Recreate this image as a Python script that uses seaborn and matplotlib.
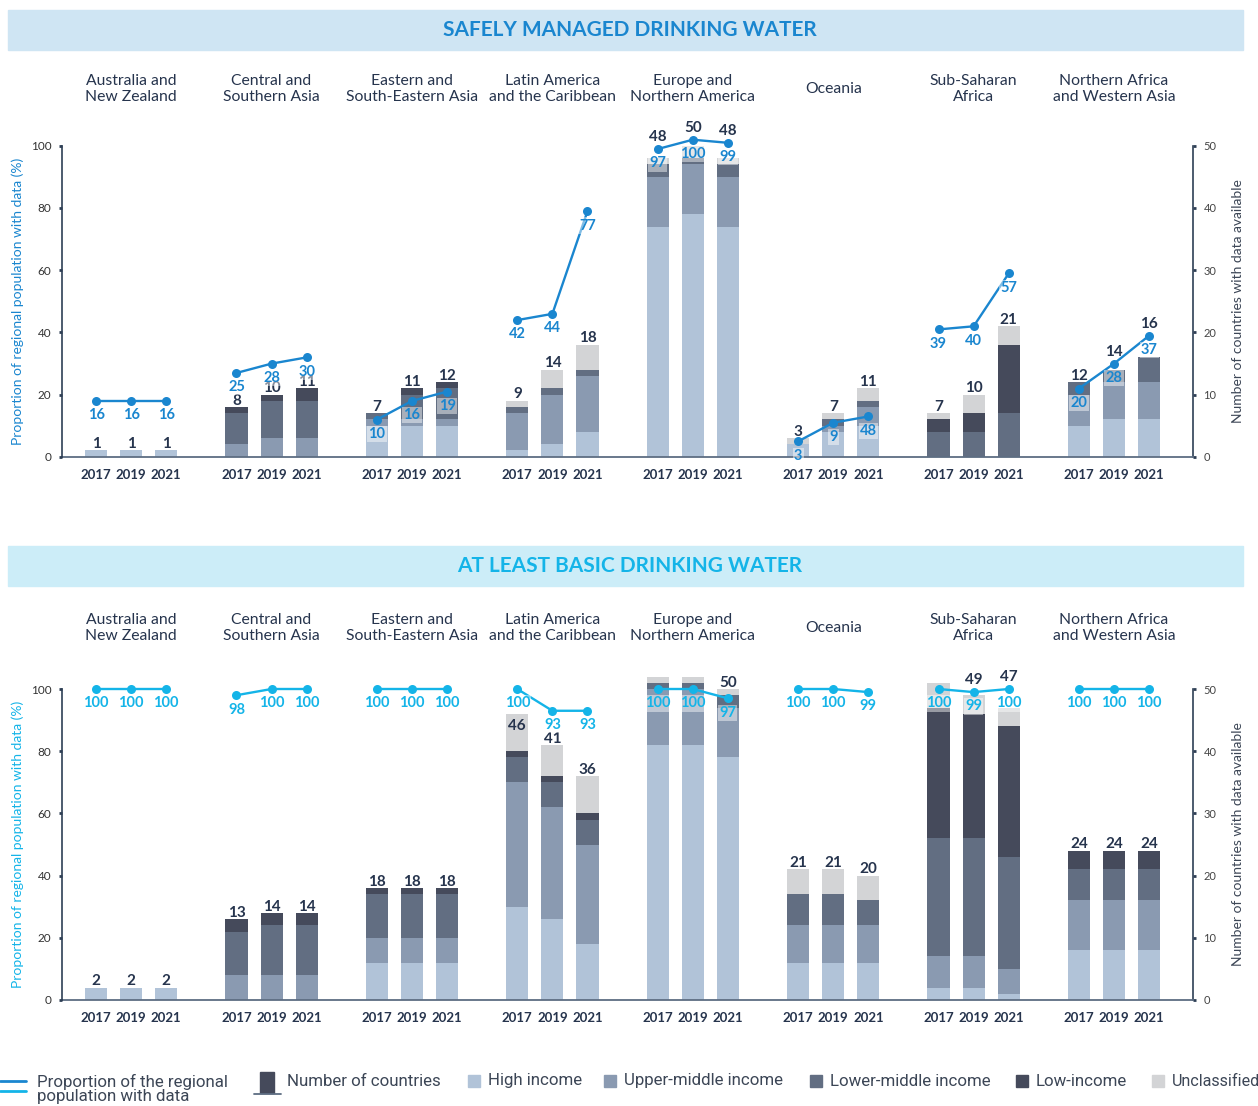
import matplotlib
matplotlib.use("Agg")
import matplotlib.pyplot as plt
import matplotlib.patches as mpatches
import matplotlib.lines as mlines
import matplotlib.transforms as mtrans
import pandas as pd
import seaborn as sns

sns.set_theme(style="white")
plt.rcParams["font.family"] = ["Lato", "DejaVu Sans"]

# -------------------------
# Data
# -------------------------
REGIONS = [
    "Australia and\nNew Zealand",
    "Central and\nSouthern Asia",
    "Eastern and\nSouth-Eastern Asia",
    "Latin America\nand the Caribbean",
    "Europe and\nNorthern America",
    "Oceania",
    "Sub-Saharan\nAfrica",
    "Northern Africa\nand Western Asia",
]
YEARS = [2017, 2019, 2021]
INCOME_GROUPS = ["High income", "Upper-middle income", "Lower-middle income",
                 "Low-income", "Unclassified"]
INCOME_COLORS = ["#b1c3d8", "#8a9ab1", "#626e82", "#454a5b", "#d3d4d6"]

# Safely managed drinking water: number of countries by income group
SM_HIGH = [[1, 1, 1], [0, 0, 0], [5, 5, 5], [1, 2, 4], [37, 39, 37], [2, 4, 5], [0, 0, 0], [5, 6, 6]]
SM_UPPER = [[0, 0, 0], [2, 3, 3], [1, 1, 1], [6, 8, 9], [8, 8, 8], [0, 1, 3], [0, 0, 0], [5, 6, 6]]
SM_LOWER = [[0, 0, 0], [5, 6, 6], [1, 4, 5], [1, 1, 1], [2, 1, 2], [0, 1, 1], [4, 4, 7], [2, 2, 4]]
SM_LOW = [[0, 0, 0], [1, 1, 2], [0, 1, 1], [0, 0, 0], [0, 0, 0], [0, 0, 0], [2, 3, 11], [0, 0, 0]]
SM_UNCL = [[0, 0, 0], [0, 0, 0], [0, 0, 0], [1, 3, 4], [1, 2, 1], [1, 1, 2], [1, 3, 3], [0, 0, 0]]
SM_PCT = [[16, 16, 16], [25, 28, 30], [10, 16, 19], [42, 44, 77], [97, 100, 99], [3, 9, 48], [39, 40, 57], [20, 28, 37]]
# heights of the line points as drawn (the Oceania 2021 point sits far below its "48" label)
SM_LINE = [[16, 16, 16], [25, 28, 30], [10, 16, 19], [42, 44, 77], [97, 100, 99], [3, 9, 11], [39, 40, 57], [20, 28, 37]]

# At least basic drinking water
BA_HIGH = [[2, 2, 2], [0, 0, 0], [6, 6, 6], [15, 13, 9], [41, 41, 39], [6, 6, 6], [2, 2, 1], [8, 8, 8]]
BA_UPPER = [[0, 0, 0], [4, 4, 4], [4, 4, 4], [20, 18, 16], [9, 9, 8], [6, 6, 6], [5, 5, 4], [8, 8, 8]]
BA_LOWER = [[0, 0, 0], [7, 8, 8], [7, 7, 7], [4, 4, 4], [1, 1, 2], [5, 5, 4], [19, 19, 18], [5, 5, 5]]
BA_LOW = [[0, 0, 0], [2, 2, 2], [1, 1, 1], [1, 1, 1], [0, 0, 0], [0, 0, 0], [21, 20, 21], [3, 3, 3]]
BA_UNCL = [[0, 0, 0], [0, 0, 0], [0, 0, 0], [6, 5, 6], [1, 1, 1], [4, 4, 4], [4, 3, 3], [0, 0, 0]]
BA_PCT = [[100, 100, 100], [98, 100, 100], [100, 100, 100], [100, 93, 93], [100, 100, 97], [100, 100, 99], [100, 99, 100], [100, 100, 100]]

W, H = 1258, 1106
GROUP_STEP = 4
NAVY = "#26344d"
BAR_W = 0.63
AX_H = 311  # axes height in px
PT = 0.72   # points per pixel at dpi 100


def fx(px):
    return px / W


def fy(py):
    return 1 - py / H


fig = plt.figure(figsize=(W / 100, H / 100), dpi=100)


def build_frame(groups, pct, line_vals):
    rows = []
    for g, region in enumerate(REGIONS):
        for j, year in enumerate(YEARS):
            row = {"region": region, "year": year, "pos": g * GROUP_STEP + j - 1,
                   "pct": pct[g][j], "line": line_vals[g][j]}
            for name, arr in zip(INCOME_GROUPS, groups):
                row[name] = arr[g][j]
            rows.append(row)
    return pd.DataFrame(rows)


def draw_panel(top_px, groups, pct, line_vals, title, line_color, band_color,
               band_top, header_y, shift_px):
    # title band
    fig.patches.append(mpatches.Rectangle((fx(8), fy(band_top + 40)), fx(1235), 40 / H,
                                          transform=fig.transFigure, color=band_color, zorder=0))
    fig.text(fx(630), fy(band_top + 20), title, ha="center", va="center",
             fontsize=15, color=line_color, weight="bold")

    ax = fig.add_axes([fx(62), fy(top_px + AX_H), fx(1131), AX_H / H])
    df = build_frame(groups, pct, line_vals)
    cum = df[INCOME_GROUPS].cumsum(axis=1)

    # stacked bars: draw cumulative totals from the top down
    for name, color in reversed(list(zip(INCOME_GROUPS, INCOME_COLORS))):
        sns.barplot(data=df.assign(h=cum[name]), x="pos", y="h", native_scale=True,
                    orient="x", width=BAR_W, color=color, saturation=1,
                    errorbar=None, linewidth=0, ax=ax)
    for p in ax.patches:
        p.set_clip_on(False)

    # count labels: above the bar, or dodging the line point when they meet
    totals = cum[INCOME_GROUPS[-1]]
    for pos, tot, lv in zip(df["pos"], totals, df["line"]):
        gap = lv * AX_H / 100 + shift_px - tot * AX_H / 50
        if 0 <= gap < 23:
            off, va = (gap + 5) * PT, "bottom"
        elif 23 <= gap < 30:
            off, va = -4, "top"
        else:
            off, va = -0.5, "bottom"
        ax.annotate(f"{tot}", (pos, tot), xytext=(0, off), textcoords="offset points",
                    ha="center", va=va, fontsize=11, weight="bold", color=NAVY)

    ax.set_ylim(0, 50)
    ax.set_xticks(df["pos"])
    ax.set_xticklabels(df["year"], fontsize=9.5, weight="bold", color=NAVY)
    ax.tick_params(axis="x", length=0, pad=9)

    axp = ax.twinx()
    sns.lineplot(data=df, x="pos", y="line", units="region", estimator=None,
                 color=line_color, marker="o", markersize=6.5, markeredgewidth=0,
                 linewidth=1.7, legend=False, ax=axp)
    shift = mtrans.ScaledTranslation(0, shift_px / 100, fig.dpi_scale_trans)
    for line in axp.lines:
        line.set_clip_on(False)
        line.set_transform(line.get_transform() + shift)
    for pos, v, lv in zip(df["pos"], df["pct"], df["line"]):
        axp.annotate(f"{v}", (pos, lv), xytext=(0, -5.3 + shift_px * PT),
                     textcoords="offset points", ha="center", va="top", fontsize=10.5,
                     color=line_color, weight="bold",
                     bbox=dict(boxstyle="square,pad=0.08", fc="white", ec="none", alpha=0.45))
    axp.set_ylim(0, 100)
    ax.set_xlim(-1.97, 30.25)

    # axes sides: percentage on the left, countries on the right
    ax.yaxis.tick_right()
    ax.yaxis.set_label_position("right")
    axp.yaxis.tick_left()
    axp.yaxis.set_label_position("left")
    ax.set_yticks(range(0, 51, 10))
    axp.set_yticks(range(0, 101, 20))
    ax.tick_params(axis="y", length=2.5, width=2, color="#2e3f55", labelsize=8,
                   labelcolor="#444444", pad=5)
    axp.tick_params(axis="y", length=2.5, width=2, color="#2e3f55", labelsize=8.5,
                    labelcolor="#333333", pad=5)

    for s in ["top", "left"]:
        ax.spines[s].set_visible(False)
    for s in ["top", "right", "bottom"]:
        axp.spines[s].set_visible(False)
    ax.spines["right"].set_color("#2e3f55")
    ax.spines["right"].set_linewidth(1.2)
    ax.spines["bottom"].set_color("#5d6d82")
    ax.spines["bottom"].set_linewidth(1.3)
    axp.spines["left"].set_color("#2e3f55")
    axp.spines["left"].set_linewidth(1.2)

    ax.set_xlabel("")
    axp.set_xlabel("")
    axp.set_ylabel("Proportion of regional population with data (%)", fontsize=10,
                   color=line_color, labelpad=5)
    ax.set_ylabel("Number of countries with data available", fontsize=10,
                  color="#3c4656", labelpad=11)

    trans = mtrans.blended_transform_factory(ax.transData, ax.transAxes)
    yh = (top_px - header_y) / AX_H + 1
    for g, region in enumerate(REGIONS):
        ax.text(g * GROUP_STEP, yh, region, transform=trans, ha="center", va="center",
                fontsize=11.3, color=NAVY, linespacing=1.2)
    return ax


draw_panel(145.7, [SM_HIGH, SM_UPPER, SM_LOWER, SM_LOW, SM_UNCL], SM_PCT, SM_LINE,
           "SAFELY MANAGED DRINKING WATER", "#1a86cf", "#cfe5f3", 10, 89, 6)
draw_panel(689, [BA_HIGH, BA_UPPER, BA_LOWER, BA_LOW, BA_UNCL], BA_PCT, BA_PCT,
           "AT LEAST BASIC DRINKING WATER", "#14b4e8", "#ccedf8", 546, 628, 0)

# -------------------------
# Legend
# -------------------------
LEG_FONT = ["Liberation Sans Narrow", "Roboto", "DejaVu Sans"]
leg_color = "#3c4656"
fig.lines.append(mlines.Line2D([fx(0), fx(26)], [fy(1081), fy(1081)], transform=fig.transFigure,
                               color="#1a86cf", lw=2))
fig.lines.append(mlines.Line2D([fx(0), fx(26)], [fy(1091), fy(1091)], transform=fig.transFigure,
                               color="#14b4e8", lw=2))
fig.text(fx(37), fy(1089), "Proportion of the regional\npopulation with data", ha="left",
         va="center", fontsize=12.2, color=leg_color, family=LEG_FONT, linespacing=0.95)
fig.patches.append(mpatches.Rectangle((fx(260), fy(1093)), fx(14), 21 / H,
                                      transform=fig.transFigure, color="#454a5b"))
fig.lines.append(mlines.Line2D([fx(254), fx(281)], [fy(1094), fy(1094)], transform=fig.transFigure,
                               color="#5d6d82", lw=1.3))
fig.text(fx(287), fy(1081), "Number of countries", ha="left", va="center",
         fontsize=12.2, color=leg_color, family=LEG_FONT)
for x0, name, color in zip([468, 604, 810, 1016, 1152], INCOME_GROUPS, INCOME_COLORS):
    fig.patches.append(mpatches.Rectangle((fx(x0), fy(1087)), fx(12), 12 / H,
                                          transform=fig.transFigure, color=color))
    fig.text(fx(x0 + 20), fy(1081), name, ha="left", va="center",
             fontsize=12.2 if x0 < 1152 else 11.6, color=leg_color, family=LEG_FONT)

fig.savefig("out.png", dpi=100)
